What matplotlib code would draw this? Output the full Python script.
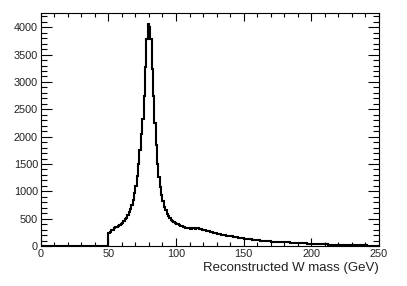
import matplotlib
matplotlib.use("Agg")
import matplotlib.pyplot as plt
import numpy as np
from matplotlib.ticker import MultipleLocator

plt.rcParams['font.family'] = ['Liberation Sans', 'DejaVu Sans']

bin_edges_start = 0
bin_width = 1
counts = [
    0, 0, 0, 0, 0, 0, 0, 0, 0, 0,
    0, 0, 0, 0, 0, 0, 0, 0, 0, 0,
    0, 0, 0, 0, 0, 0, 0, 0, 0, 0,
    0, 0, 0, 0, 0, 0, 0, 0, 0, 0,
    0, 0, 0, 0, 0, 0, 0, 0, 0, 0,
    240, 265, 285, 300, 330, 340, 355, 370, 385, 395,
    420, 450, 485, 520, 565, 615, 680, 755, 850, 965,
    1100, 1280, 1500, 1760, 2050, 2330, 2750, 3270, 3790, 4053,
    4010, 3790, 3240, 2750, 2250, 1850, 1500, 1260, 1080, 940,
    820, 720, 650, 585, 540, 505, 480, 460, 440, 425,
    410, 398, 385, 372, 365, 352, 345, 338, 330, 322,
    318, 312, 322, 330, 318, 325, 330, 312, 318, 300,
    292, 285, 278, 270, 268, 262, 250, 245, 238, 232,
    225, 222, 215, 210, 205, 200, 196, 190, 188, 185,
    180, 176, 170, 165, 162, 158, 152, 148, 145, 140,
    136, 132, 128, 126, 122, 120, 116, 113, 110, 108,
    105, 102, 100, 97, 95, 93, 90, 88, 85, 83,
    80, 78, 76, 74, 72, 70, 68, 66, 70, 72,
    74, 70, 68, 65, 63, 61, 60, 58, 57, 56,
    55, 53, 52, 50, 48, 47, 46, 44, 43, 42,
    41, 40, 38, 37, 36, 35, 33, 32, 31, 30,
    29, 28, 27, 26, 25, 24, 23, 22, 21, 20,
    19, 19, 18, 18, 17, 16, 16, 15, 15, 14,
    14, 13, 13, 12, 12, 12, 11, 11, 10, 10,
    10, 9, 9, 9, 8, 8, 8, 7, 7, 7,
]
x_label = "Reconstructed W mass (GeV)"
x_range = (0, 250)

edges = bin_edges_start + bin_width * np.arange(len(counts) + 1)

fig = plt.figure(figsize=(4.07, 2.86), dpi=100)
ax = fig.add_axes([0.1, 1 - 246 / 286, 0.831, (246 - 13.3) / 286])

ax.stairs(counts, edges, baseline=None, color='black', linewidth=1.5)

ax.set_xlim(*x_range)
ax.set_ylim(0, max(counts) * 1.05)

ax.xaxis.set_major_locator(MultipleLocator(50))
ax.xaxis.set_minor_locator(MultipleLocator(10))
ax.yaxis.set_major_locator(MultipleLocator(500))
ax.yaxis.set_minor_locator(MultipleLocator(100))

ax.tick_params(axis='both', which='both', direction='in', top=True, right=True,
               labelsize=7.8, width=0.8, colors='black', pad=2)
ax.tick_params(axis='x', which='major', length=6)
ax.tick_params(axis='x', which='minor', length=3)
ax.tick_params(axis='y', which='major', length=8)
ax.tick_params(axis='y', which='minor', length=4)
for lab in ax.get_xticklabels() + ax.get_yticklabels():
    lab.set_color('#222222')

for s in ax.spines.values():
    s.set_linewidth(0.8)

ax.set_xlabel(x_label, fontsize=9.5, loc='right', labelpad=2, color='#222222')

fig.savefig("out.png", dpi=100)
